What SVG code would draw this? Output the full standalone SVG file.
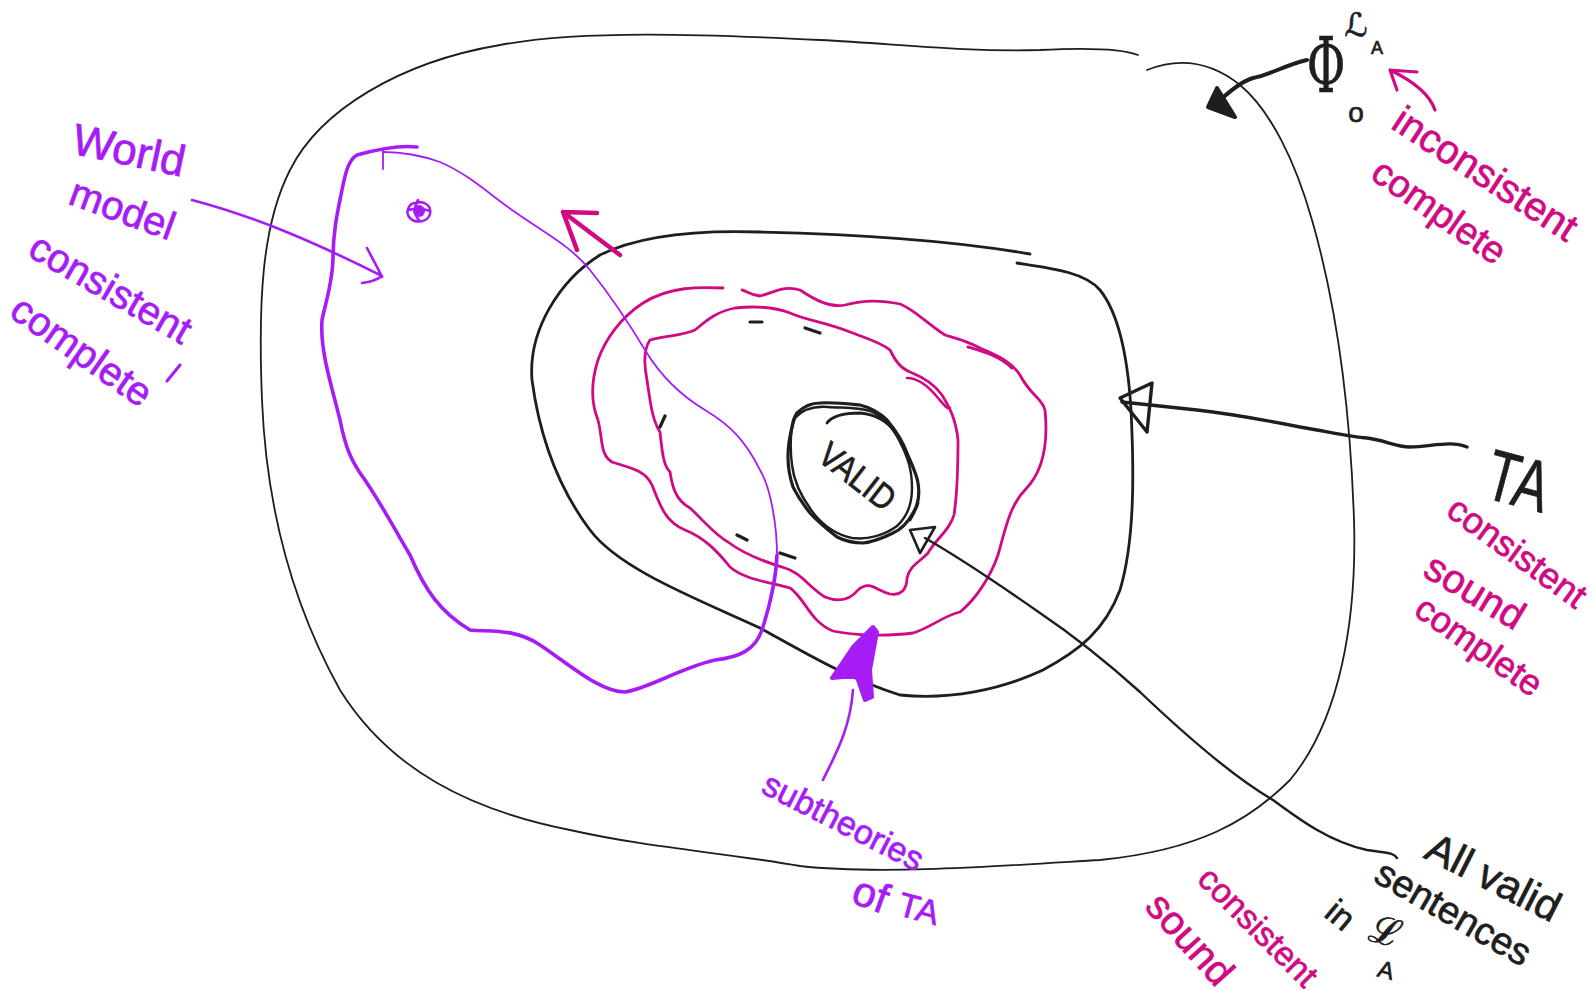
<svg xmlns="http://www.w3.org/2000/svg" width="1592" height="991" viewBox="0 0 1592 991">
<style>
.k{fill:none;stroke:#1e1e1e;stroke-linecap:round;stroke-linejoin:round}
.p{fill:none;stroke:#cf0a83;stroke-linecap:round;stroke-linejoin:round}
.v{fill:none;stroke:#a61cf5;stroke-linecap:round;stroke-linejoin:round}
.tk{font-family:"Liberation Sans",Arial,sans-serif;fill:#1e1e1e;stroke:#1e1e1e;stroke-width:0.7}
.tp{font-family:"Liberation Sans",Arial,sans-serif;fill:#cf0a83;stroke:#cf0a83;stroke-width:0.7}
.tv{font-family:"Liberation Sans",Arial,sans-serif;fill:#a61cf5;stroke:#a61cf5;stroke-width:0.7}
</style>
<rect width="1592" height="991" fill="#ffffff"/>

<g id="node-incomplete">
<path class="k" stroke-width="1.8" d="M1138,55 C1120,48 1080,48 1040,50 C960,52 900,44 820,40 C700,34 580,30 500,45 C400,62 320,110 290,170 C262,225 258,300 262,400 C266,500 290,600 340,690 C390,770 470,810 570,830 C650,848 720,852 800,866 C880,875 1000,866 1100,860 C1200,850 1250,820 1290,780 C1340,720 1357,620 1354,520 C1350,400 1335,300 1312,220 C1295,160 1270,110 1240,85 C1215,65 1185,55 1147,70"/>
</g>

<g id="node-TA">
<path class="k" stroke-width="2.8" d="M1017,263 C1050,268 1085,272 1100,290 C1120,315 1128,360 1131,410 C1134,470 1135,540 1120,590 C1105,630 1080,650 1043,670 C1000,690 950,700 900,695 C850,680 800,650 760,628 C700,600 620,570 590,530 C560,490 540,440 532,380 C528,330 560,280 600,255 C640,235 700,230 760,232 C850,234 950,240 1030,254"/>
</g>

<g id="node-pink-outer">
<path class="p" stroke-width="2.8" d="M723,288 C700,287 670,286 643,303 C620,318 605,340 598,360 C590,385 592,405 598,420 C603,440 600,455 612,462 C630,468 645,470 652,485 C660,505 665,522 685,530 C705,538 718,552 730,567 C745,580 770,582 790,588 C805,598 810,622 833,631 C855,636 890,636 913,633 C930,628 945,615 960,612 C975,600 990,578 998,555 C1005,530 1010,505 1025,490 C1045,470 1048,440 1045,410 C1042,398 1030,395 1020,375 C1010,360 995,355 980,348 C965,340 955,338 945,335 C925,322 915,310 900,304 C880,300 865,300 845,305 C830,308 815,300 800,290 C785,285 775,292 760,296 C750,295 745,290 742,290"/>
<path class="p" stroke-width="3" d="M968,347 C985,352 1000,356 1012,368"/>
</g>

<g id="node-pink-inner">
<path class="p" stroke-width="2.8" d="M650,340 C665,336 685,335 695,330 C705,322 715,312 735,308 C755,306 775,307 790,313 C805,320 825,322 850,332 C865,338 880,342 890,350 C895,360 900,368 910,372 C925,378 935,385 942,395 C950,408 956,420 958,440 C958,470 957,495 954,515 C950,530 935,540 928,553 C920,562 910,565 907,578 C907,590 900,596 890,594 C875,590 870,580 858,590 C850,600 840,603 825,597 C810,588 800,572 785,568 C765,562 745,555 728,542 C715,535 705,522 690,508 C675,500 672,485 670,472 C663,465 662,450 660,432 C652,420 650,400 647,380 C644,365 643,350 650,340 Z"/>
<path class="p" stroke-width="2.6" d="M907,378 C920,378 930,388 938,398 C944,405 948,410 950,408"/>
</g>

<g id="node-world-model">
<path class="v" stroke-width="3.6" d="M417,147 C400,145 375,150 357,155 C348,160 345,175 342,190 C338,210 333,230 333,260 C332,285 325,305 322,320 C320,350 330,380 340,420 C345,445 350,460 365,480 C385,510 395,530 410,555 C425,590 440,612 470,630 C490,632 515,628 540,645 C570,665 600,692 625,692 C650,688 680,668 715,660 C740,657 755,650 762,630 C770,605 776,580 777,555"/>
<path class="v" stroke-width="1.8" d="M777,555 C777,530 772,490 760,470 C745,440 730,425 705,410 C680,395 660,375 645,350 C630,325 610,295 590,270 C570,245 540,230 515,212 C490,195 470,175 440,162 C420,155 400,152 383,152"/>
<path class="v" stroke-width="1.8" d="M383,151 L383,169"/>
<path class="v" stroke-width="2.5" d="M414,203 C408,205 405,213 410,218 C416,224 428,222 430,214 C432,206 424,200 416,203 M418,200 C414,206 414,215 419,220 M409,210 C416,208 424,209 430,211"/>
<circle cx="419" cy="211" r="6" fill="#a61cf5"/>
</g>

<g id="node-valid">
<path class="k" stroke-width="3.2" d="M797,413 C805,405 812,403 820,403 C835,402 850,404 860,405 C872,408 880,413 887,420 C897,432 903,442 907,453 C912,465 917,475 918,483 C920,495 918,505 913,513 C908,522 900,530 893,533 C883,538 873,542 863,543 C852,543 845,541 837,537 C828,530 818,522 810,513 C802,503 797,495 793,487 C789,475 788,466 788,457 C788,445 790,435 792,427 C793,420 795,416 797,413"/>
<path class="k" stroke-width="2.4" d="M795,418 C803,409 815,406 828,407 C845,408 858,407 870,411 C884,417 893,428 900,442 C908,458 912,470 912,488 C912,502 908,516 897,526 C885,535 868,540 852,538 C838,535 825,527 815,515 C803,500 794,483 792,465 C790,448 790,430 795,418"/>
<path class="k" stroke-width="2.8" d="M827,423 C832,416 845,413 860,413 C875,414 888,422 895,432 C902,442 907,452 910,463"/>
<path class="k" stroke-width="2.8" d="M918,503 C916,510 913,515 910,520"/>
<text class="tk" font-size="35" transform="translate(850,486) rotate(38) scale(0.88,1)" text-anchor="middle">VALID</text>
</g>

<g id="connectors">
<path class="k" stroke-width="2.4" d="M925,538 C960,558 1000,585 1040,613 C1080,640 1110,665 1140,692 C1180,730 1230,775 1273,800 C1300,820 1330,842 1367,850 C1385,853 1393,852 1397,858"/>
<path class="k" stroke-width="2.6" d="M910,530 L935,527 L920,553 Z"/>
<path class="k" stroke-width="3.4" d="M1122,402 C1140,404 1160,406 1197,410 C1240,415 1265,420 1300,427 C1330,432 1350,437 1367,438 C1385,440 1395,447 1410,447 C1430,447 1450,440 1467,447"/>
<path class="k" stroke-width="3.4" d="M1120,398 L1152,383 L1147,432 Z"/>
<path class="k" stroke-width="4" d="M1307,60 C1285,65 1270,75 1253,78 C1240,82 1225,95 1213,107"/>
<path d="M1208,107 L1217,88 L1235,117 Z" fill="#1e1e1e" stroke="#1e1e1e" stroke-width="4" stroke-linejoin="round"/>
<path class="p" stroke-width="4.5" d="M620,255 L563,212 M597,213 L563,212 L577,250"/>
<path class="p" stroke-width="3.2" d="M1435,110 C1430,95 1415,82 1390,70 M1417,72 L1390,70 L1397,90"/>
<path class="v" stroke-width="2.6" d="M192,200 C260,218 320,245 380,275 M367,248 C372,258 378,268 382,277 M362,283 C370,282 377,280 382,276"/>
<path class="v" stroke-width="2.6" d="M823,780 C835,755 850,730 853,690"/>
<path d="M832,678 L853,647 L873,627 L877,632 L870,670 L872,697 L865,700 L857,677 L843,677 Z" fill="#a61cf5" stroke="#a61cf5" stroke-width="4" stroke-linejoin="round"/>
<path class="k" stroke-width="3.2" d="M750,322 L762,322 M805,328 L820,333 M660,427 L665,416 M737,535 L747,540 M780,553 L795,558"/>
</g>

<g id="labels">
<text class="tv" font-size="44" transform="translate(126,165) rotate(12)" text-anchor="middle">World</text>
<text class="tv" font-size="40" transform="translate(118,222) rotate(20)" text-anchor="middle">model</text>
<text class="tv" font-size="40" transform="translate(104,300) rotate(30)" text-anchor="middle">consistent</text>
<text class="tv" font-size="40" transform="translate(74,362) rotate(35)" text-anchor="middle">complete</text>
<path class="v" stroke-width="3" d="M167,381 L180,365"/>

<text class="tp" font-size="40" transform="translate(1478,185) rotate(33)" text-anchor="middle">inconsistent</text>
<text class="tp" font-size="38" transform="translate(1432,222) rotate(35)" text-anchor="middle">complete</text>

<text class="tk" font-size="72" transform="translate(1512,505) rotate(15) scale(0.72,1)" text-anchor="middle">TA</text>
<text class="tp" font-size="36" transform="translate(1510,562) rotate(36)" text-anchor="middle">consistent</text>
<text class="tp" font-size="40" transform="translate(1468,603) rotate(31)" text-anchor="middle">sound</text>
<text class="tp" font-size="36" transform="translate(1472,656) rotate(35)" text-anchor="middle">complete</text>

<text class="tk" font-size="42" transform="translate(1487,890) rotate(27)" text-anchor="middle">All valid</text>
<text class="tk" font-size="38" transform="translate(1447,924) rotate(30)" text-anchor="middle">sentences</text>
<text class="tk" font-size="34" transform="translate(1333,924) rotate(40)" text-anchor="middle">in</text>
<text class="tk" font-size="38" transform="translate(1382,944) rotate(15)" text-anchor="middle">ℒ</text>
<text class="tk" font-size="24" transform="translate(1384,978) rotate(15)" text-anchor="middle">A</text>

<text class="tp" font-size="34" transform="translate(1250,935) rotate(45)" text-anchor="middle">consistent</text>
<text class="tp" font-size="40" transform="translate(1180,948) rotate(48)" text-anchor="middle">sound</text>

<text class="tv" font-size="34" transform="translate(838,832) rotate(27)" text-anchor="middle">subtheories</text>
<text class="tv" font-size="42" transform="translate(866,908) rotate(20)" text-anchor="middle">of</text>
<text class="tv" font-size="34" transform="translate(916,920) rotate(15)" text-anchor="middle">TA</text>

<text class="tk" font-size="76" transform="translate(1326,92) scale(0.62,1)" text-anchor="middle" style="font-family:'DejaVu Serif',serif">Φ</text>
<text class="tk" font-size="32" transform="translate(1356,36)" text-anchor="middle" style="font-family:'DejaVu Sans',sans-serif">ℒ</text>
<text class="tk" font-size="18" transform="translate(1377,54)" text-anchor="middle">A</text>
<text class="tk" font-size="28" transform="translate(1356,122)" text-anchor="middle">o</text>
</g>
</svg>
